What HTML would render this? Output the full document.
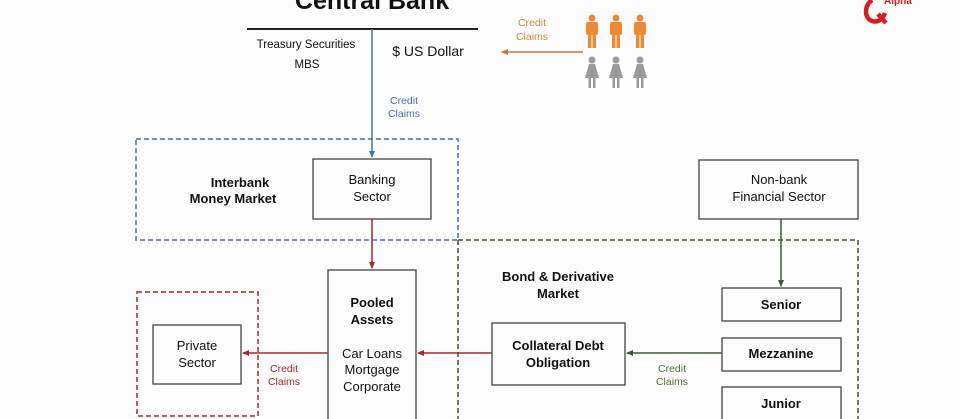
<!DOCTYPE html>
<html><head><meta charset="utf-8"><style>
html,body{margin:0;padding:0;background:#fdfcfc;}
svg{display:block;font-family:"Liberation Sans",Arial,sans-serif;}
</style></head><body>
<svg width="960" height="419" viewBox="0 0 960 419" xmlns="http://www.w3.org/2000/svg">
<defs>
<marker id="ab" markerWidth="8" markerHeight="8" refX="6" refY="4" orient="auto" markerUnits="userSpaceOnUse"><path d="M0,1 L7,4 L0,7 z" fill="#4a6fa5"/></marker>
<marker id="ar" markerWidth="8" markerHeight="8" refX="6" refY="4" orient="auto" markerUnits="userSpaceOnUse"><path d="M0,1 L7,4 L0,7 z" fill="#a32a2a"/></marker>
<marker id="ag" markerWidth="8" markerHeight="8" refX="6" refY="4" orient="auto" markerUnits="userSpaceOnUse"><path d="M0,1 L7,4 L0,7 z" fill="#3f5a2e"/></marker>
<marker id="ao" markerWidth="8" markerHeight="8" refX="6" refY="4" orient="auto" markerUnits="userSpaceOnUse"><path d="M0,1 L7,4 L0,7 z" fill="#c5783a"/></marker>
</defs>
<rect width="960" height="419" fill="#fdfcfc"/>
<text x="372" y="9" font-size="25" font-weight="bold" text-anchor="middle" fill="#111">Central Bank</text>
<line x1="247" y1="29" x2="478" y2="29" stroke="#222" stroke-width="2"/>
<line x1="372" y1="29" x2="372" y2="157" stroke="#4a6fa5" stroke-width="1.5" marker-end="url(#ab)"/>
<text x="306" y="48" font-size="11.5" text-anchor="middle" fill="#111">Treasury Securities</text>
<text x="307" y="68" font-size="11.5" text-anchor="middle" fill="#111">MBS</text>
<text x="428" y="56" font-size="14" text-anchor="middle" fill="#111">$ US Dollar</text>
<text x="404" y="104" font-size="10.5" text-anchor="middle" fill="#4a6fa5">Credit</text>
<text x="404" y="117" font-size="10.5" text-anchor="middle" fill="#4a6fa5">Claims</text>
<line x1="583" y1="52" x2="502" y2="52" stroke="#c5783a" stroke-width="1.5" marker-end="url(#ao)"/>
<text x="532" y="26" font-size="10.5" text-anchor="middle" fill="#d08b3a">Credit</text>
<text x="532" y="40" font-size="10.5" text-anchor="middle" fill="#d08b3a">Claims</text>
<g fill="#ec8a35">
<g transform="translate(592,0)"><circle cx="0" cy="18" r="3.5"/><rect x="-6" y="22" width="12" height="13" rx="2"/><rect x="-4" y="33" width="3.5" height="15"/><rect x="0.5" y="33" width="3.5" height="15"/></g>
<g transform="translate(616,0)"><circle cx="0" cy="18" r="3.5"/><rect x="-6" y="22" width="12" height="13" rx="2"/><rect x="-4" y="33" width="3.5" height="15"/><rect x="0.5" y="33" width="3.5" height="15"/></g>
<g transform="translate(640,0)"><circle cx="0" cy="18" r="3.5"/><rect x="-6" y="22" width="12" height="13" rx="2"/><rect x="-4" y="33" width="3.5" height="15"/><rect x="0.5" y="33" width="3.5" height="15"/></g>
</g>
<g fill="#9a9a9a">
<g transform="translate(592,0)"><circle cx="0" cy="60" r="3.5"/><path d="M-3,64 L3,64 L7,78 L-7,78 z"/><rect x="-3.5" y="77" width="2.5" height="11"/><rect x="1" y="77" width="2.5" height="11"/></g>
<g transform="translate(616,0)"><circle cx="0" cy="60" r="3.5"/><path d="M-3,64 L3,64 L7,78 L-7,78 z"/><rect x="-3.5" y="77" width="2.5" height="11"/><rect x="1" y="77" width="2.5" height="11"/></g>
<g transform="translate(640,0)"><circle cx="0" cy="60" r="3.5"/><path d="M-3,64 L3,64 L7,78 L-7,78 z"/><rect x="-3.5" y="77" width="2.5" height="11"/><rect x="1" y="77" width="2.5" height="11"/></g>
</g>
<path d="M872,0 C864,6 864,18 872,21 C878,23 883,19 885,13 M878,14 L886,23" stroke="#d42020" stroke-width="4.5" fill="none"/>
<text x="884" y="4" font-size="10" fill="#d42020" font-weight="bold">Alpha</text>
<rect x="136" y="139" width="322" height="101" fill="none" stroke="#4a6fa5" stroke-width="1.5" stroke-dasharray="5,3"/>
<path d="M458,240 L858,240 L858,419" fill="none" stroke="#3f5a2e" stroke-width="1.5" stroke-dasharray="5,3"/>
<line x1="458" y1="240" x2="458" y2="419" stroke="#3f5a2e" stroke-width="1.5" stroke-dasharray="5,3"/>
<rect x="137" y="292" width="121" height="124" fill="none" stroke="#a32a2a" stroke-width="1.5" stroke-dasharray="5,3"/>
<g fill="#fdfcfc" stroke="#444" stroke-width="1.3">
<rect x="313" y="159" width="118" height="60"/>
<rect x="328" y="270" width="88" height="160"/>
<rect x="153" y="325" width="88" height="59"/>
<rect x="492" y="323" width="133" height="62"/>
<rect x="699" y="160" width="159" height="59"/>
<rect x="722" y="288" width="119" height="33"/>
<rect x="722" y="338" width="119" height="33"/>
<rect x="722" y="387" width="119" height="40"/>
</g>
<line x1="372" y1="219" x2="372" y2="268" stroke="#a32a2a" stroke-width="1.5" marker-end="url(#ar)"/>
<line x1="328" y1="353" x2="243" y2="353" stroke="#a32a2a" stroke-width="1.5" marker-end="url(#ar)"/>
<line x1="492" y1="353" x2="418" y2="353" stroke="#a32a2a" stroke-width="1.5" marker-end="url(#ar)"/>
<line x1="781" y1="219" x2="781" y2="286" stroke="#3f5a2e" stroke-width="1.5" marker-end="url(#ag)"/>
<line x1="722" y1="353" x2="627" y2="353" stroke="#3f5a2e" stroke-width="1.5" marker-end="url(#ag)"/>
<g font-size="13" text-anchor="middle" fill="#111">
<text x="240" y="187" font-weight="bold">Interbank</text>
<text x="233" y="203" font-weight="bold">Money Market</text>
<text x="372" y="184">Banking</text>
<text x="372" y="201">Sector</text>
<text x="372" y="307" font-weight="bold">Pooled</text>
<text x="372" y="324" font-weight="bold">Assets</text>
<text x="372" y="358">Car Loans</text>
<text x="372" y="374">Mortgage</text>
<text x="372" y="391">Corporate</text>
<text x="197" y="350">Private</text>
<text x="197" y="367">Sector</text>
<text x="558" y="281" font-weight="bold">Bond &amp; Derivative</text>
<text x="558" y="298" font-weight="bold">Market</text>
<text x="558" y="350" font-weight="bold">Collateral Debt</text>
<text x="558" y="367" font-weight="bold">Obligation</text>
<text x="779" y="184">Non-bank</text>
<text x="779" y="201">Financial Sector</text>
<text x="781" y="309" font-weight="bold">Senior</text>
<text x="781" y="358" font-weight="bold">Mezzanine</text>
<text x="781" y="408" font-weight="bold">Junior</text>
</g>
<g font-size="10.5" text-anchor="middle">
<text x="284" y="372" fill="#a32a2a">Credit</text>
<text x="284" y="385" fill="#a32a2a">Claims</text>
<text x="672" y="372" fill="#4e6e35">Credit</text>
<text x="672" y="385" fill="#4e6e35">Claims</text>
</g>
</svg>
</body></html>
